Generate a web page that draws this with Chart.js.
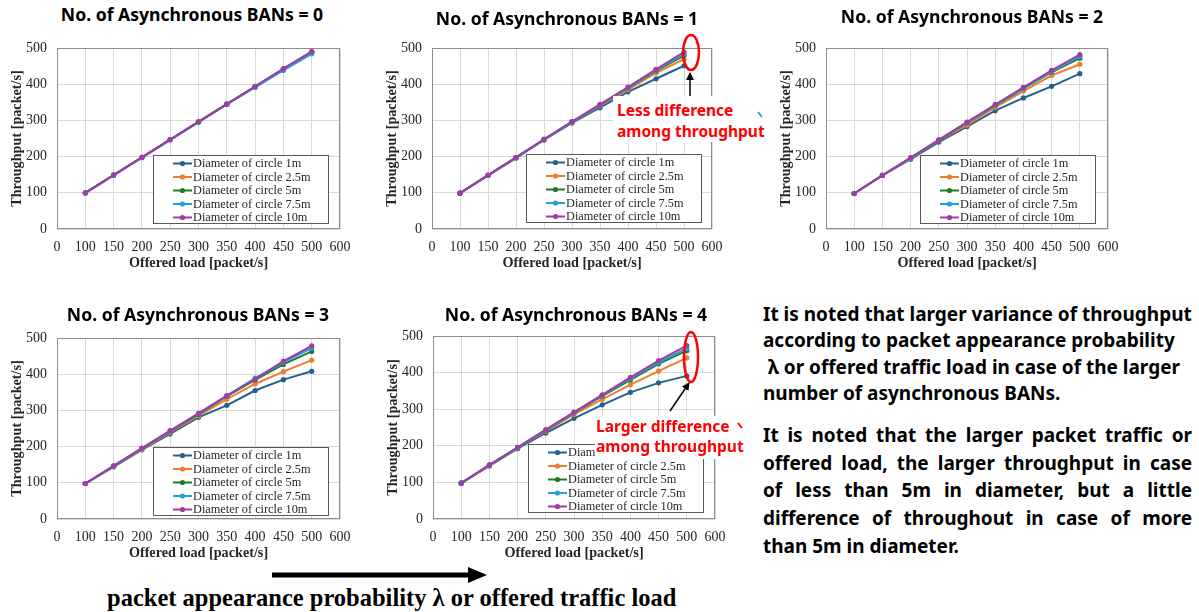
<!DOCTYPE html>
<html><head><meta charset="utf-8">
<script src="https://cdn.jsdelivr.net/npm/chart.js@4.4.0/dist/chart.umd.min.js"></script>
<style>
html,body{margin:0;padding:0;background:#fff;width:1199px;height:612px;overflow:hidden;position:relative}
canvas{position:absolute;display:block}
.title{position:absolute;width:320px;text-align:center;font-family:"Noto Sans",sans-serif;font-weight:700;font-size:17.6px;color:#000;line-height:20px;white-space:nowrap;z-index:3}
.note{position:absolute;left:763px;width:429px;font-family:"Noto Sans",sans-serif;font-weight:700;font-size:18px;color:#000;z-index:3}
.note div{white-space:nowrap}
.just div{text-align:justify;text-align-last:justify}
.just div.last{text-align-last:left}
.wbox{position:absolute;background:#fff;z-index:4}
.red{position:absolute;font-family:"Noto Sans",sans-serif;font-weight:700;font-size:15.5px;color:#ff0000;line-height:21px;white-space:nowrap;z-index:5}
.cap{position:absolute;left:107px;top:584px;font-family:"Liberation Serif",serif;font-weight:700;font-size:24.5px;line-height:28px;color:#000;white-space:nowrap;z-index:3}
svg.ov{position:absolute;left:0;top:0;z-index:6;pointer-events:none}
</style>
</head>
<body>
<canvas id="c0"></canvas><canvas id="c1"></canvas><canvas id="c2"></canvas><canvas id="c3"></canvas><canvas id="c4"></canvas>

<div class="title" style="left:32px;top:4px">No. of Asynchronous BANs = 0</div>
<div class="title" style="left:407px;top:8px">No. of Asynchronous BANs = 1</div>
<div class="title" style="left:812px;top:6px">No. of Asynchronous BANs = 2</div>
<div class="title" style="left:38px;top:304px">No. of Asynchronous BANs = 3</div>
<div class="title" style="left:416px;top:304px">No. of Asynchronous BANs = 4</div>

<div class="wbox" style="left:613px;top:96px;width:157px;height:46px"></div>
<div class="red" style="left:617px;top:100px">Less difference<br>among throughput</div>
<div class="wbox" style="left:595px;top:416px;width:150px;height:43px"></div>
<div class="red" style="left:596px;top:416px;line-height:20px">Larger difference<br>among throughput</div>

<div class="note" id="p1" style="top:301px;line-height:26.3px">
<div><span id="fitLine">It is noted that larger variance of throughput</span></div>
<div>according to packet appearance probability</div>
<div>&nbsp;λ or offered traffic load in case of the larger</div>
<div>number of asynchronous BANs.</div>
</div>
<div class="note just" id="p2" style="top:422px;line-height:27.7px">
<div>It is noted that the larger packet traffic or</div>
<div>offered load, the larger throughput in case</div>
<div>of less than 5m in diameter, but a little</div>
<div>difference of throughout in case of more</div>
<div class="last">than 5m in diameter.</div>
</div>

<div class="cap">packet appearance probability λ or offered traffic load</div>

<svg class="ov" width="1199" height="612">
  <defs>
    <marker id="ah" markerWidth="8" markerHeight="8" refX="7" refY="4" orient="auto" markerUnits="userSpaceOnUse">
      <path d="M0,0 L8,4 L0,8 Z" fill="#000"/>
    </marker>
  </defs>
  <ellipse cx="691" cy="52.5" rx="8" ry="17.5" fill="none" stroke="#ff0000" stroke-width="2.5"/>
  <line x1="690" y1="96" x2="690" y2="73" stroke="#000" stroke-width="1.5" marker-end="url(#ah)"/>
  <ellipse cx="691" cy="357" rx="7" ry="25" fill="none" stroke="#ff0000" stroke-width="2.5"/>
  <line x1="670" y1="411" x2="689" y2="383" stroke="#000" stroke-width="1.5" marker-end="url(#ah)"/>
  <line x1="758" y1="112" x2="762" y2="117" stroke="#22a2dc" stroke-width="2"/>
  <line x1="738" y1="423" x2="742" y2="428" stroke="#ff0000" stroke-width="2"/>
  <line x1="272" y1="575" x2="470" y2="575" stroke="#000" stroke-width="5"/>
  <path d="M468,567 L487,575 L468,583 Z" fill="#000"/>
</svg>

<script>
// ---- data ----
const tickLabels = ['0','100','150','200','250','300','350','400','450','500','600'];
const offeredLoad = [100,150,200,250,300,350,400,450,500];
const diameters = ['Diameter of circle 1m','Diameter of circle 2.5m','Diameter of circle 5m','Diameter of circle 7.5m','Diameter of circle 10m'];
const lineColors = ['#23628c','#ed7d31','#237a2b','#22a2dc','#a23ba3'];

// No. of asynchronous BANs = 0
const bans0_1m   = [100,149,198,247,296,345,393,442,489];
const bans0_2_5m = [100,149,198,247,296,345,393,442,489];
const bans0_5m   = [100,149,198,247,296,345,393,442,489];
const bans0_7_5m = [ 99,148,197,246,295,344,391,438,484];
const bans0_10m  = [100,149,198,247,296,345,394,443,490];
// = 1
const bans1_1m   = [ 99,148,196,246,293,335,379,415,451];
const bans1_2_5m = [ 99,148,197,247,295,340,385,431,469];
const bans1_5m   = [ 99,148,197,247,296,342,389,437,479];
const bans1_7_5m = [ 99,148,197,247,296,343,390,439,483];
const bans1_10m  = [ 99,149,198,248,297,344,392,441,489];
// = 2
const bans2_1m   = [ 98,148,193,240,283,327,362,394,429];
const bans2_2_5m = [ 98,148,195,244,287,336,381,424,455];
const bans2_5m   = [ 98,148,196,245,293,341,388,433,472];
const bans2_7_5m = [ 98,148,196,246,294,342,389,435,477];
const bans2_10m  = [ 98,148,197,246,295,344,391,438,482];
// = 3
const bans3_1m   = [ 98,144,191,235,281,314,355,385,408];
const bans3_2_5m = [ 98,145,193,239,285,331,373,407,439];
const bans3_5m   = [ 98,146,195,242,289,339,384,427,463];
const bans3_7_5m = [ 98,146,195,243,291,340,389,433,472];
const bans3_10m  = [ 98,147,196,244,292,341,386,436,478];
// = 4
const bans4_1m   = [ 98,145,192,235,275,312,346,372,391];
const bans4_2_5m = [ 98,146,194,240,286,327,367,404,440];
const bans4_5m   = [ 98,147,195,242,290,336,380,424,460];
const bans4_7_5m = [ 98,147,195,243,291,338,384,428,466];
const bans4_10m  = [ 98,148,196,244,292,339,387,433,474];

const yTicks = [0,100,200,300,400,500];

// ---- fit the note text to the reference line width ----
(function(){
  const s = document.getElementById('fitLine');
  const w = s.getBoundingClientRect().width;
  const fs = 18 * 429 / w;
  document.getElementById('p1').style.fontSize = fs + 'px';
  document.getElementById('p2').style.fontSize = fs + 'px';
})();

// ---- helpers ----
function toRow(vals){
  return tickLabels.map(t => { const i = offeredLoad.indexOf(Number(t)); return i >= 0 ? vals[i] : null; });
}

const framePlugin = {
  id:'frame',
  beforeDatasetsDraw(chart){
    const a = chart.chartArea, c = chart.ctx;
    c.save(); c.strokeStyle = '#8c8c8c'; c.lineWidth = 1;
    c.strokeRect(Math.round(a.left)+0.5, Math.round(a.top)+0.5, Math.round(a.right-a.left)-1, Math.round(a.bottom-a.top)-1);
    c.restore();
  }
};
const boxLegend = {
  id:'boxLegend',
  afterDatasetsDraw(chart, args, opts){
    const a = chart.chartArea, c = chart.ctx;
    const x = Math.round(a.left + opts.dx), y = Math.round(a.top + opts.dy), w = 175, h = 68;
    c.save();
    c.fillStyle = '#fff'; c.fillRect(x, y, w, h);
    c.strokeStyle = '#595959'; c.lineWidth = 1; c.strokeRect(x+0.5, y+0.5, w, h);
    c.font = '12.3px "Liberation Serif"'; c.textBaseline = 'middle';
    chart.data.datasets.forEach((ds, i) => {
      const cy = y + 8.5 + i*13.5;
      c.strokeStyle = ds.borderColor; c.lineWidth = 2;
      c.beginPath(); c.moveTo(x+20, cy); c.lineTo(x+39, cy); c.stroke();
      c.fillStyle = ds.borderColor; c.beginPath(); c.arc(x+29.5, cy, 2.6, 0, Math.PI*2); c.fill();
      c.fillStyle = '#262626'; c.fillText(ds.label, x+40, cy+0.5);
    });
    c.restore();
  }
};

function makeChart(id, rect, series, leg){
  const cv = document.getElementById(id);
  cv.width = rect.w; cv.height = rect.h;
  cv.style.left = rect.x + 'px'; cv.style.top = rect.y + 'px';
  cv.style.width = rect.w + 'px'; cv.style.height = rect.h + 'px';
  const tickFont = {family:'"Liberation Serif", serif', size:14};
  const titleFont = {family:'"Liberation Serif", serif', size:14.2, weight:'bold'};
  new Chart(cv, {
    type:'line',
    data:{
      labels: tickLabels,
      datasets: series.map((vals, i) => ({
        label: diameters[i], data: toRow(vals),
        borderColor: lineColors[i], backgroundColor: lineColors[i],
        pointBackgroundColor: lineColors[i], pointBorderWidth: 0, pointRadius: 2.6,
        borderWidth: 2, tension: 0, fill: false, order: 4 - i
      }))
    },
    options:{
      responsive:false, animation:false, devicePixelRatio:1,
      layout:{padding:{top:20, right:25, left:0, bottom:0}},
      plugins:{legend:{display:false}, tooltip:{enabled:false}, title:{display:false}, boxLegend: leg},
      scales:{
        x:{
          type:'category', offset:false,
          grid:{color:'#d9d9d9', lineWidth:1, drawTicks:false},
          border:{display:false},
          ticks:{autoSkip:false, maxRotation:0, minRotation:0, padding:10, font:tickFont, color:'#262626'},
          title:{display:true, text:'Offered load [packet/s]', font:titleFont, color:'#262626', padding:{top:0, bottom:0}},
          afterFit(s){ s.height = 43; }
        },
        y:{
          min:0, max:500,
          afterBuildTicks(s){ s.ticks = yTicks.map(v => ({value:v})); },
          grid:{color:'#d9d9d9', lineWidth:1, drawTicks:false},
          border:{display:false},
          ticks:{padding:10, font:tickFont, color:'#262626'},
          title:{display:true, text:'Throughput [packet/s]', font:titleFont, color:'#262626', padding:{top:9, bottom:0}},
          afterFit(s){ s.width = 57; }
        }
      }
    },
    plugins:[framePlugin, boxLegend]
  });
}

makeChart('c0', {x:0,   y:28,  w:365, h:244}, [bans0_1m,bans0_2_5m,bans0_5m,bans0_7_5m,bans0_10m], {dx:96, dy:107});
makeChart('c1', {x:375, y:28,  w:362, h:244}, [bans1_1m,bans1_2_5m,bans1_5m,bans1_7_5m,bans1_10m], {dx:94, dy:106});
makeChart('c2', {x:769, y:28,  w:364, h:244}, [bans2_1m,bans2_2_5m,bans2_5m,bans2_7_5m,bans2_10m], {dx:94, dy:107});
makeChart('c3', {x:0,   y:318, w:365, h:244}, [bans3_1m,bans3_2_5m,bans3_5m,bans3_7_5m,bans3_10m], {dx:96, dy:109});
makeChart('c4', {x:376, y:316, w:364, h:246}, [bans4_1m,bans4_2_5m,bans4_5m,bans4_7_5m,bans4_10m], {dx:95, dy:108});
</script>
</body></html>
